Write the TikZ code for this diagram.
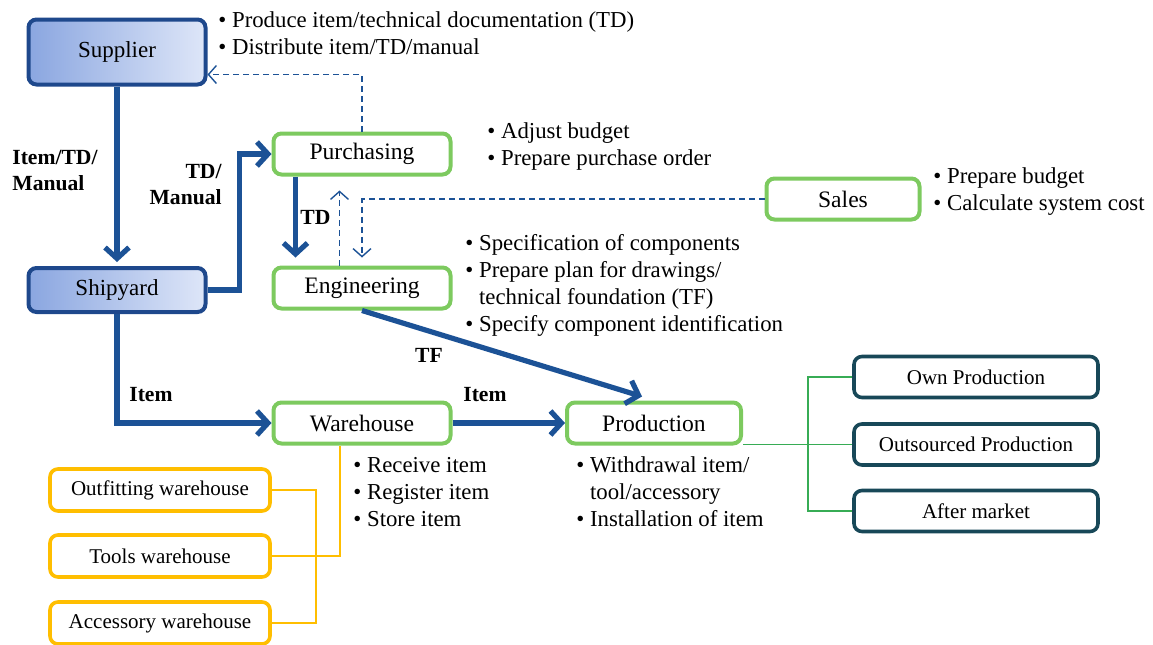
\documentclass[tikz,border=0pt]{standalone}
\usepackage{fontspec}
\setmainfont{Liberation Serif}
\usetikzlibrary{arrows.meta,positioning,calc}
\definecolor{flowblue}{RGB}{28,82,150}
\definecolor{edgeblue}{RGB}{30,72,140}
\definecolor{shadeA}{RGB}{138,166,224}
\definecolor{shadeB}{RGB}{222,230,248}
\definecolor{deptgreen}{RGB}{125,202,95}
\definecolor{linkgreen}{RGB}{55,172,85}
\definecolor{prodteal}{RGB}{24,72,88}
\definecolor{storeorange}{RGB}{255,190,0}
\newcommand{\notelist}[1]{\begin{tabular}[t]{@{}l@{\ }l@{}}#1\end{tabular}}
\renewcommand{\arraystretch}{1.0}

\begin{document}
\begin{tikzpicture}
[x=0.5pt,y=-0.5pt,
actnode/.style={shape=rectangle,rounded corners=4pt,draw=edgeblue,line width=2pt,
  left color=shadeA,right color=shadeB,minimum width=88.5pt,
  font=\fontsize{11.5}{13.5}\selectfont},
deptnode/.style={shape=rectangle,rounded corners=4pt,draw=deptgreen,line width=2pt,
  fill=white,minimum width=88.5pt,minimum height=20.5pt,
  font=\fontsize{11.8}{13.5}\selectfont},
prodnode/.style={shape=rectangle,rounded corners=4pt,draw=prodteal,line width=1.8pt,
  fill=white,minimum width=122pt,minimum height=20.5pt,
  font=\fontsize{10.5}{12.5}\selectfont},
storenode/.style={shape=rectangle,rounded corners=4pt,draw=storeorange,line width=1.8pt,
  fill=white,minimum width=110pt,minimum height=21pt,
  font=\fontsize{10.5}{12.5}\selectfont},
note/.style={anchor=base west,inner sep=0pt,font=\fontsize{11.4}{13.6}\selectfont},
lab/.style={inner sep=0pt,font=\fontsize{10.8}{13}\selectfont\bfseries},
flowedge/.style={flowblue,line width=2.6pt,
  -{Straight Barb[length=5.5pt,width=12pt]}},
ctrledge/.style={flowblue,line width=0.7pt,dash pattern=on 3pt off 2pt,
  -{Straight Barb[length=4pt,width=9pt]}},
linkedge/.style={linkgreen,line width=0.8pt},
storeedge/.style={storeorange,line width=0.7pt}]
%% frame
\useasboundingbox (0,0) rectangle (1153,644);
%%%%% actors
\node (supplier) [actnode,minimum height=32.5pt] at (117,52) {Supplier};
\node (shipyard) [actnode,minimum height=22pt] at (117,290) {Shipyard};
%% departments
\node (purchasing) [deptnode] at (362,154) {Purchasing};
\node (engineering) [deptnode] at (362,288) {Engineering};
\node (warehouse) [deptnode] at (362,423) {Warehouse};
\node (production) [deptnode,minimum width=87pt] at (654,423) {Production};
\node (sales) [deptnode,minimum width=76.5pt] at (843,199) {Sales};
%% production types
\node (own) [prodnode] at (976,377) {Own Production};
\node (outsourced) [prodnode] at (976,444.5) {Outsourced Production};
\node (after) [prodnode] at (976,511) {After market};
%% storage
\node (outfit) [storenode] at (160,490) {Outfitting warehouse};
\node (tools) [storenode] at (160,556) {Tools warehouse};
\node (accessory) [storenode] at (160,623) {Accessory warehouse};
%%%%% flows
\draw[flowedge] (supplier) -- ([yshift=2pt]shipyard.north);
\node [lab,align=left,anchor=north west] at (12,150) {Item/TD/\\Manual};
\draw[flowedge] (shipyard.east) -- ++(32,0) |- (purchasing.west);
\node [lab,align=right,anchor=north east] at (222,164) {TD/\\Manual};
\draw[flowedge] ([xshift=12pt]purchasing.south west)
  -- ([xshift=12pt,yshift=4pt]engineering.north west);
\node [lab,anchor=west] at (300,217) {TD};
\draw[flowedge] (engineering.south) -- ([xshift=-6pt,yshift=2pt]production.north);
\node [lab] at (429,355) {TF};
\draw[flowedge] (shipyard.south) |- (warehouse.west);
\node [lab,anchor=west] at (129,395) {Item};
\draw[flowedge] (warehouse) -- (production);
\node [lab,anchor=west] at (463,395) {Item};
%% dashed control lines
\draw[ctrledge] ([xshift=34pt]engineering.north west)
  -- ([xshift=34pt,yshift=-7pt]purchasing.south west);
\draw[ctrledge] (sales.west) -| ([yshift=4pt]engineering.north);
\draw[ctrledge] (purchasing.north) |- ([yshift=6pt]supplier.south east);
%% thin links
\draw[linkedge] (production.east |- outsourced.west) -- (outsourced.west);
\draw[linkedge] (own.west) -- ++(-44,0) |- (after.west);
\draw[storeedge] ([xshift=-11pt]warehouse.south) |- (tools.east);
\draw[storeedge] (outfit.east) -- ++(44,0) |- (accessory.east);
%%%%% notes
\node [note] at (218,27) {\notelist{\textbullet & Produce item/technical documentation (TD)\\
  \textbullet & Distribute item/TD/manual}};
\node [note] at (487,138) {\notelist{\textbullet & Adjust budget\\
  \textbullet & Prepare purchase order}};
\node [note] at (933,183) {\notelist{\textbullet & Prepare budget\\
  \textbullet & Calculate system cost}};
\node [note] at (465,250) {\notelist{\textbullet & Specification of components\\
  \textbullet & Prepare plan for drawings/\\
  & technical foundation (TF)\\
  \textbullet & Specify component identification}};
\node [note] at (353,472) {\notelist{\textbullet & Receive item\\
  \textbullet & Register item\\
  \textbullet & Store item}};
\node [note] at (576,472) {\notelist{\textbullet & Withdrawal item/\\
  & tool/accessory\\
  \textbullet & Installation of item}};
\end{tikzpicture}
\end{document}
